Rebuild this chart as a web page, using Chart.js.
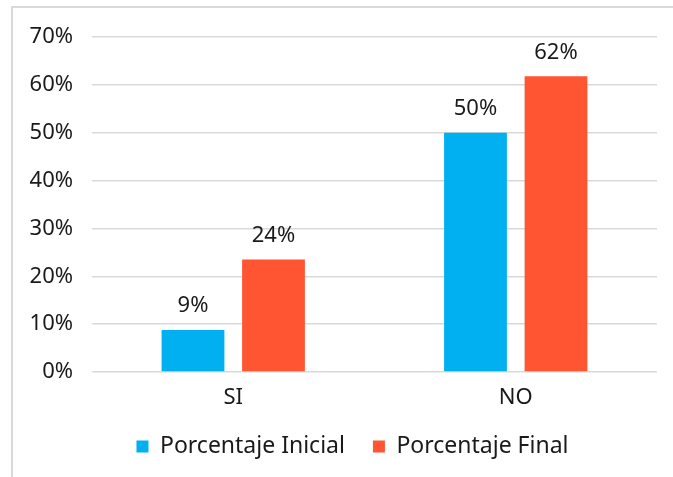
<!DOCTYPE html>
<html>
<head>
<meta charset="utf-8">
<script src="https://cdn.jsdelivr.net/npm/chart.js@4"></script>
<style>
  html, body { margin: 0; padding: 0; background: #fff; }
  #wrap { position: relative; width: 673px; height: 477px; }
  #frame { position: absolute; left: 11px; top: 6px; right: 0; bottom: 0;
           border-left: 2px solid #D9D9D9; border-top: 2px solid #D9D9D9; }
  canvas { position: absolute; left: 0; top: 0; }
</style>
</head>
<body>
<div id="wrap">
  <div id="frame"></div>
  <canvas id="chart" width="673" height="477"></canvas>
</div>
<script>
const categories = ['SI', 'NO'];
const seriesNames = ['Porcentaje Inicial', 'Porcentaje Final'];
const inicialValues = [8.8, 50.0];
const finalValues = [23.5, 61.8];
const yTicks = [0, 10, 20, 30, 40, 50, 60, 70];

const fontFamily = '"Noto Sans", Lato, sans-serif';
const textColor = '#1a1a1a';

const valueLabels = {
    id: 'valueLabels',
    afterDatasetsDraw(chart) {
        const ctx = chart.ctx;
        ctx.save();
        ctx.font = '22px ' + fontFamily;
        ctx.fillStyle = textColor;
        ctx.textAlign = 'center';
        ctx.textBaseline = 'middle';
        chart.data.datasets.forEach((ds, i) => {
            chart.getDatasetMeta(i).data.forEach((bar, j) => {
                ctx.fillText(Math.round(ds.data[j]) + '%', bar.x, bar.y - 24);
            });
        });
        ctx.restore();
    }
};

// the legend sits a bit right of the canvas centre
const legendShift = {
    id: 'legendShift',
    afterLayout(chart) {
        chart.legend.left += 24;
        chart.legend.right += 24;
    }
};

document.addEventListener('DOMContentLoaded', function() {
    const ctx = document.getElementById('chart').getContext('2d');
    new Chart(ctx, {
        type: 'bar',
        data: {
            labels: categories,
            datasets: [{
                label: seriesNames[0],
                data: inicialValues,
                backgroundColor: '#00B0F0',
                categoryPercentage: 0.57,
                barPercentage: 0.78
            }, {
                label: seriesNames[1],
                data: finalValues,
                backgroundColor: '#FF5533',
                categoryPercentage: 0.57,
                barPercentage: 0.78
            }]
        },
        options: {
            responsive: false,
            animation: false,
            layout: { padding: { top: 37, right: 16, bottom: 9, left: 0 } },
            scales: {
                x: {
                    grid: { display: false },
                    border: { display: false },
                    ticks: {
                        color: textColor,
                        font: { family: fontFamily, size: 22 },
                        padding: 5
                    },
                    afterFit: function(scale) { scale.height = 35; }
                },
                y: {
                    min: 0,
                    max: 70,
                    afterBuildTicks: function(scale) {
                        scale.ticks = yTicks.map(v => ({ value: v }));
                    },
                    grid: { color: '#D9D9D9', lineWidth: 1.5, drawTicks: false },
                    border: { display: false },
                    ticks: {
                        color: textColor,
                        font: { family: fontFamily, size: 22 },
                        padding: 19,
                        callback: v => v + '%'
                    },
                    afterFit: function(scale) { scale.width = 92; }
                }
            },
            plugins: {
                legend: {
                    position: 'bottom',
                    labels: {
                        color: textColor,
                        font: { family: fontFamily, size: 23 },
                        boxWidth: 12,
                        boxHeight: 12,
                        padding: 28
                    }
                },
                tooltip: { enabled: false }
            }
        },
        plugins: [valueLabels, legendShift]
    });
});
</script>
</body>
</html>
